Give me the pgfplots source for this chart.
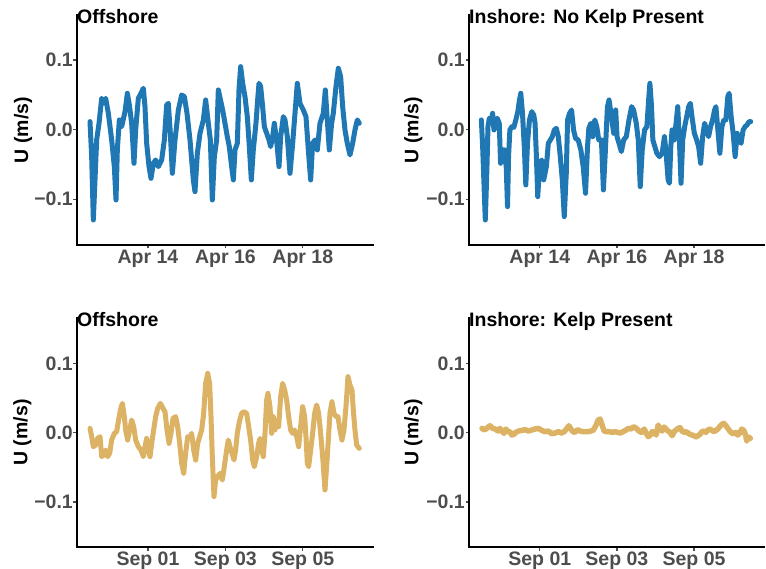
\documentclass[border=0pt]{standalone}
\usepackage{fontspec}
\setmainfont{Liberation Sans}
\usepackage{pgfplots}
\pgfplotsset{compat=1.18}
\definecolor{cblue}{RGB}{31,120,180}
\definecolor{ctan}{RGB}{220,178,100}
\definecolor{tickgray}{RGB}{77,77,77}
\newcommand{\lblfont}{\fontsize{19.5}{22}\selectfont\bfseries}
\pgfplotsset{
  panel/.style={
    scale only axis,
    width=296pt,
    axis x line=bottom, axis y line=left,
    axis line style={-, line width=2.6pt, black, line cap=rect},
    tick align=outside,
    major tick length=3.5pt,
    tick style={line width=1.3pt, color=tickgray},
    ytick={-0.1,0,0.1},
    yticklabels={−0.1,0.0,0.1},
    ticklabel style={font=\lblfont, text=tickgray},
    xticklabel style={inner sep=1.5pt},
    yticklabel style={inner sep=0.5pt},
    ylabel={U (m/s)},
    ylabel style={font=\lblfont, text=black, anchor=center},
    title style={at={(axis description cs:0,1)}, anchor=north west, inner sep=0pt, font=\lblfont, text=black},
  },
  aprpanel/.style={panel, height=230pt, xmin=12.165, xmax=19.814, ymin=-0.1657, ymax=0.1648,
    xtick={14,16,18}, xticklabels={Apr 14,Apr 16,Apr 18}},
  seppanel/.style={panel, height=229pt, xmin=-0.835, xmax=6.814, ymin=-0.1652, ymax=0.1658,
    xtick={1,3,5}, xticklabels={Sep 01,Sep 03,Sep 05}},
  ser/.style={line width=5pt, line join=round, line cap=round},
}
\begin{document}
\begin{tikzpicture}
\useasboundingbox (0,0) rectangle (766pt,-569pt);
% ---------------- top left
\begin{axis}[aprpanel, at={(77pt,-245pt)}, anchor=south west, title={Offshore},
  ylabel style={at={(axis description cs:-0.182,0.5)}}]
\addplot[ser, cblue] table {
x y
12.501 0.0116
12.544 -0.0387
12.587 -0.1297
12.630 -0.0722
12.673 -0.0148
12.734 0.0092
12.803 0.0451
12.846 0.0379
12.906 0.0451
12.975 0.0235
13.061 -0.0148
13.130 -0.0531
13.173 -0.1010
13.207 -0.0291
13.259 0.0140
13.319 0.0044
13.406 0.0259
13.466 0.0523
13.518 0.0355
13.578 0.0092
13.638 -0.0483
13.681 -0.0004
13.750 0.0451
13.819 0.0523
13.879 0.0595
13.922 0.0331
13.965 -0.0196
14.026 -0.0531
14.077 -0.0699
14.138 -0.0483
14.198 -0.0435
14.267 -0.0531
14.353 -0.0435
14.422 -0.0148
14.482 0.0355
14.525 0.0379
14.577 -0.0052
14.629 -0.0627
14.698 -0.0148
14.784 0.0283
14.870 0.0499
14.939 0.0475
15.008 0.0235
15.085 -0.0148
15.171 -0.0722
15.214 -0.0890
15.275 -0.0339
15.344 -0.0052
15.430 0.0140
15.490 0.0427
15.559 0.0092
15.611 -0.0148
15.662 -0.1010
15.714 -0.0387
15.774 -0.0148
15.817 0.0571
15.929 0.0283
15.989 0.0092
16.049 -0.0100
16.101 -0.0244
16.161 -0.0531
16.205 -0.0722
16.248 -0.0291
16.308 -0.0196
16.351 0.0571
16.394 0.0906
16.446 0.0666
16.506 0.0475
16.566 0.0187
16.618 -0.0244
16.670 -0.0722
16.721 -0.0291
16.790 0.0092
16.833 0.0427
16.868 0.0666
16.911 0.0619
16.962 0.0331
17.006 0.0044
17.066 -0.0052
17.126 -0.0148
17.169 -0.0244
17.221 -0.0100
17.264 0.0092
17.324 -0.0148
17.385 -0.0531
17.428 -0.0100
17.497 0.0187
17.540 0.0140
17.600 -0.0100
17.669 -0.0627
17.738 -0.0196
17.798 0.0235
17.858 0.0666
17.927 0.0379
18.013 0.0283
18.082 0.0187
18.143 -0.0291
18.203 -0.0722
18.254 -0.0196
18.315 -0.0148
18.375 -0.0291
18.444 0.0092
18.530 0.0235
18.582 0.0571
18.633 0.0140
18.685 -0.0291
18.745 0.0092
18.788 0.0235
18.857 0.0619
18.918 0.0882
18.978 0.0762
19.030 0.0331
19.090 -0.0004
19.150 -0.0196
19.219 -0.0363
19.288 -0.0196
19.348 -0.0004
19.409 0.0140
19.460 0.0092
};
\end{axis}
% ---------------- top right
\begin{axis}[aprpanel, at={(469pt,-245pt)}, anchor=south west, width=295pt, title={Inshore: No Kelp Present},
  ylabel style={at={(axis description cs:-0.189,0.5)}}]
\addplot[ser, cblue] table {
x y
12.485 0.0140
12.519 -0.0244
12.562 -0.0914
12.588 -0.1297
12.631 -0.0531
12.657 0.0044
12.691 0.0164
12.743 0.0140
12.777 0.0235
12.812 -0.0004
12.846 0.0116
12.898 0.0164
12.949 0.0092
12.984 -0.0483
13.035 -0.0291
13.087 -0.0291
13.130 -0.0531
13.164 -0.1106
13.190 -0.0387
13.225 -0.0004
13.276 0.0044
13.328 0.0034
13.379 0.0140
13.431 0.0259
13.474 0.0427
13.508 0.0523
13.552 0.0235
13.603 -0.0291
13.638 -0.0794
13.681 -0.0196
13.732 0.0140
13.792 0.0259
13.844 0.0211
13.878 0.0092
13.913 -0.0387
13.947 -0.0962
13.999 -0.0483
14.050 -0.0435
14.102 -0.0722
14.136 -0.0627
14.171 -0.0531
14.222 -0.0196
14.274 -0.0148
14.326 -0.0100
14.377 -0.0004
14.429 0.0020
14.481 -0.0100
14.532 -0.0387
14.584 -0.0722
14.635 -0.1249
14.687 -0.0627
14.721 0.0140
14.773 0.0235
14.825 0.0283
14.876 -0.0004
14.928 -0.0124
14.997 -0.0148
15.065 -0.0291
15.126 -0.0531
15.186 -0.0914
15.238 -0.0244
15.272 0.0020
15.324 0.0092
15.375 -0.0100
15.427 0.0140
15.478 0.0044
15.530 -0.0148
15.599 -0.0148
15.650 -0.0866
15.702 -0.0291
15.754 0.0331
15.797 0.0427
15.857 0.0187
15.917 -0.0052
15.969 0.0283
16.003 -0.0100
16.055 -0.0196
16.115 -0.0315
16.175 -0.0148
16.244 -0.0100
16.313 0.0140
16.382 0.0331
16.433 0.0283
16.502 0.0092
16.554 -0.0148
16.605 -0.0818
16.657 -0.0291
16.717 -0.0004
16.777 0.0044
16.829 0.0475
16.855 0.0666
16.898 0.0331
16.932 -0.0148
16.984 -0.0244
17.036 -0.0339
17.104 -0.0387
17.173 -0.0339
17.233 -0.0100
17.276 -0.0339
17.328 -0.0722
17.362 -0.0770
17.397 -0.0244
17.431 -0.0004
17.483 -0.0148
17.534 0.0092
17.577 0.0331
17.620 -0.0148
17.663 -0.0770
17.706 -0.0148
17.758 0.0044
17.810 0.0187
17.861 0.0331
17.904 0.0379
17.947 0.0187
18.008 -0.0052
18.068 -0.0148
18.119 -0.0244
18.171 -0.0483
18.223 -0.0100
18.274 0.0092
18.326 -0.0004
18.377 -0.0100
18.429 0.0044
18.481 0.0140
18.532 0.0283
18.567 0.0331
18.618 -0.0004
18.670 -0.0339
18.722 0.0044
18.773 0.0140
18.825 0.0140
18.876 0.0475
18.911 0.0523
18.962 0.0187
19.014 -0.0052
19.066 -0.0387
19.117 -0.0052
19.169 -0.0148
19.220 -0.0196
19.272 -0.0004
19.324 0.0044
19.375 0.0068
19.427 0.0116
19.470 0.0116
};
\end{axis}
% ---------------- bottom left
\begin{axis}[seppanel, at={(77pt,-547pt)}, anchor=south west, title={Offshore},
  ylabel style={at={(axis description cs:-0.185,0.5)}}]
\addplot[ser, ctan] table {
x y
-0.499 0.0063
-0.456 -0.0057
-0.413 -0.0202
-0.352 -0.0178
-0.301 -0.0082
-0.240 -0.0057
-0.197 -0.0346
-0.146 -0.0322
-0.094 -0.0250
-0.042 -0.0346
0.009 -0.0298
0.061 -0.0106
0.130 -0.0009
0.190 0.0015
0.233 0.0159
0.285 0.0328
0.337 0.0424
0.388 0.0232
0.423 0.0039
0.474 -0.0106
0.526 0.0039
0.578 0.0183
0.630 0.0087
0.681 -0.0106
0.750 -0.0202
0.819 -0.0250
0.879 -0.0346
0.922 -0.0202
0.965 -0.0082
1.009 -0.0250
1.052 -0.0346
1.095 -0.0154
1.146 0.0039
1.198 0.0232
1.250 0.0352
1.319 0.0424
1.388 0.0352
1.439 0.0304
1.491 0.0039
1.543 -0.0154
1.594 -0.0009
1.646 0.0208
1.715 0.0232
1.766 0.0087
1.818 -0.0154
1.870 -0.0443
1.922 -0.0587
1.973 -0.0298
2.025 -0.0057
2.077 -0.0082
2.128 -0.0009
2.180 -0.0250
2.232 -0.0395
2.283 -0.0154
2.335 -0.0057
2.387 0.0039
2.438 0.0280
2.490 0.0713
2.542 0.0858
2.593 0.0713
2.628 0.0232
2.662 -0.0346
2.705 -0.0924
2.748 -0.0684
2.800 -0.0635
2.860 -0.0587
2.921 -0.0684
2.972 -0.0491
3.032 -0.0250
3.075 -0.0106
3.118 -0.0202
3.170 -0.0298
3.222 -0.0395
3.265 -0.0250
3.308 -0.0009
3.360 0.0159
3.420 0.0280
3.480 0.0304
3.549 0.0280
3.601 0.0087
3.652 -0.0106
3.704 -0.0395
3.747 -0.0491
3.807 -0.0346
3.859 -0.0154
3.894 -0.0082
3.937 -0.0250
3.980 -0.0346
4.023 -0.0009
4.066 0.0472
4.100 0.0569
4.152 0.0376
4.195 -0.0009
4.238 0.0232
4.281 0.0039
4.324 0.0183
4.376 0.0087
4.428 0.0521
4.479 0.0713
4.531 0.0617
4.583 0.0472
4.634 0.0232
4.686 0.0039
4.738 -0.0009
4.789 0.0039
4.841 -0.0057
4.893 -0.0202
4.944 0.0087
4.996 0.0376
5.048 0.0232
5.082 -0.0057
5.117 -0.0443
5.151 -0.0491
5.203 -0.0250
5.254 -0.0009
5.306 0.0280
5.358 0.0400
5.410 0.0280
5.461 -0.0009
5.513 -0.0346
5.573 -0.0828
5.616 -0.0491
5.659 -0.0106
5.702 0.0280
5.754 0.0448
5.806 0.0280
5.857 0.0232
5.909 0.0232
5.961 0.0039
6.012 -0.0106
6.064 0.0039
6.116 0.0376
6.167 0.0810
6.219 0.0689
6.271 0.0617
6.305 0.0328
6.348 0.0039
6.391 -0.0178
6.460 -0.0226
};
\end{axis}
% ---------------- bottom right
\begin{axis}[seppanel, at={(469pt,-547pt)}, anchor=south west, width=295pt, title={Inshore: Kelp Present},
  ylabel style={at={(axis description cs:-0.189,0.5)}}]
\addplot[ser, ctan, line width=5.5pt] table {
x y
-0.498 0.0063
-0.429 0.0039
-0.360 0.0072
-0.292 0.0101
-0.223 0.0063
-0.154 0.0053
-0.085 0.0024
-0.033 0.0063
0.018 0.0024
0.070 -0.0009
0.121 0.0053
0.173 0.0015
0.225 0.0015
0.276 -0.0034
0.328 -0.0024
0.379 0.0005
0.448 0.0024
0.534 0.0034
0.620 0.0044
0.706 0.0024
0.792 0.0039
0.878 0.0053
0.964 0.0063
1.050 0.0034
1.136 0.0015
1.222 0.0024
1.308 -0.0014
1.395 -0.0005
1.481 0.0015
1.567 -0.0005
1.635 0.0015
1.704 0.0063
1.756 0.0101
1.807 0.0053
1.859 0.0015
1.911 0.0005
1.979 0.0044
2.048 0.0024
2.117 0.0015
2.186 0.0015
2.255 0.0015
2.324 0.0024
2.392 0.0039
2.461 0.0111
2.513 0.0183
2.564 0.0198
2.616 0.0111
2.668 0.0024
2.736 0.0015
2.805 0.0015
2.883 0.0005
2.952 0.0015
3.020 0.0005
3.089 -0.0005
3.158 0.0015
3.227 0.0034
3.296 0.0063
3.365 0.0053
3.433 0.0087
3.502 0.0063
3.571 0.0024
3.640 0.0005
3.709 0.0053
3.760 -0.0009
3.812 -0.0058
3.863 -0.0034
3.915 0.0015
3.967 0.0005
4.018 -0.0034
4.070 0.0111
4.122 0.0053
4.173 0.0024
4.225 0.0082
4.276 0.0053
4.328 0.0024
4.380 0.0005
4.431 -0.0043
4.483 0.0015
4.534 0.0039
4.586 0.0063
4.638 0.0072
4.689 0.0024
4.741 0.0005
4.792 0.0015
4.844 -0.0005
4.896 -0.0024
4.947 -0.0034
4.999 -0.0043
5.051 -0.0062
5.102 -0.0043
5.154 -0.0024
5.205 0.0015
5.257 0.0024
5.309 0.0005
5.360 0.0039
5.412 0.0053
5.463 0.0034
5.515 0.0015
5.567 0.0034
5.618 0.0053
5.670 0.0092
5.722 0.0121
5.773 0.0135
5.825 0.0101
5.876 0.0063
5.928 0.0024
5.980 -0.0005
6.031 -0.0014
6.083 0.0005
6.134 -0.0034
6.186 -0.0005
6.238 0.0053
6.289 0.0034
6.341 -0.0043
6.367 -0.0120
6.410 -0.0062
6.461 -0.0082
};
\end{axis}
\end{tikzpicture}
\end{document}
